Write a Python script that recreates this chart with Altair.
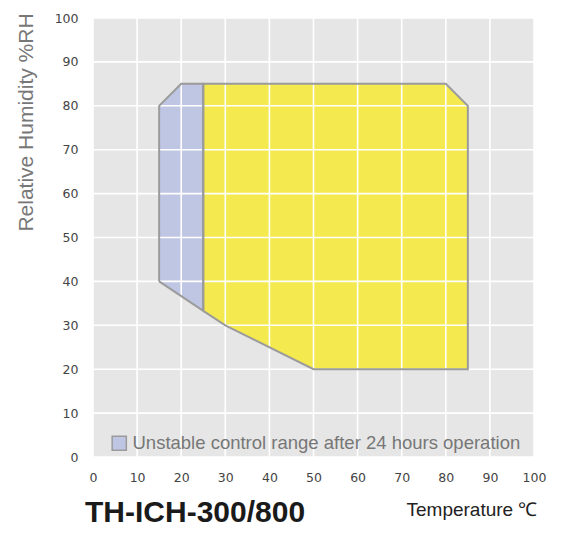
import altair as alt
import pandas as pd

# polygon vertices (temperature °C, relative humidity %RH)
blue_t = [15, 15, 20, 25, 25, 15]
blue_rh = [40, 80, 85, 85, 33.3, 40]
yellow_t = [25, 25, 80, 85, 85, 50, 30, 25]
yellow_rh = [33.3, 85, 85, 80, 20, 20, 30, 33.3]
ticks = [0, 10, 20, 30, 40, 50, 60, 70, 80, 90, 100]
legend_label = "Unstable control range after 24 hours operation"

blue_df = pd.DataFrame({"t": blue_t, "rh": blue_rh, "i": range(len(blue_t)),
                        "region": legend_label})
yellow_df = pd.DataFrame({"t": yellow_t, "rh": yellow_rh, "i": range(len(yellow_t))})
vgrid_df = pd.DataFrame({"t": ticks})
hgrid_df = pd.DataFrame({"rh": ticks})

xs = alt.Scale(domain=[0, 100], nice=False)
ys = alt.Scale(domain=[0, 100], nice=False)

xaxis = alt.Axis(values=ticks, grid=False,
                 domain=False, ticks=False, labelPadding=14, labelFont="DejaVu Sans",
                 labelFontSize=12.5, labelColor="#444444", labelFlush=False,
                 labelOverlap=False,
                 title="Temperature ℃", titleFont="Liberation Sans", titleFontSize=19,
                 titleFontWeight="normal", titleColor="#222222", titleAlign="left",
                 titleBaseline="alphabetic", titleX=313, titleY=58, titleAnchor="start")
yaxis = alt.Axis(values=ticks, grid=False,
                 domain=False, ticks=False, labelPadding=15, labelFont="DejaVu Sans",
                 labelFontSize=12.5, labelColor="#444444", labelFlush=False,
                 labelOverlap=False,
                 title="Relative Humidity %RH", titleFont="Liberation Sans", titleFontSize=21,
                 titleFontWeight="normal", titleColor="#777777", titleAngle=270,
                 titleAlign="center", titleBaseline="alphabetic", titleX=-61, titleY=104)

X = alt.X("t:Q", scale=xs, axis=xaxis)
Y = alt.Y("rh:Q", scale=ys, axis=yaxis)

yellow_fill = alt.Chart(yellow_df).mark_line(fill="#f4e94e", strokeOpacity=0).encode(
    x=X, y=Y, order="i:Q")

blue_fill = alt.Chart(blue_df).mark_line(strokeOpacity=0).encode(
    x=X, y=Y, order="i:Q",
    fill=alt.Fill("region:N", scale=alt.Scale(range=["#bfc6e4"]),
                  legend=alt.Legend(title=None, orient="none", legendX=17, legendY=416,
                                    symbolType="square", symbolSize=200,
                                    symbolStrokeColor="#9b9b9b", symbolStrokeWidth=1.5,
                                    symbolFillColor="#bfc6e4", symbolOpacity=1,
                                    labelFont="Liberation Sans", labelFontSize=18.5,
                                    labelColor="#777777", labelOffset=4, padding=0,
                                    labelLimit=600, zindex=2)),
)

vgrid = alt.Chart(vgrid_df).mark_rule(color="white", strokeWidth=1.6).encode(x=X)
hgrid = alt.Chart(hgrid_df).mark_rule(color="white", strokeWidth=1.6).encode(y=Y)

yellow_line = alt.Chart(yellow_df).mark_line(stroke="#9b9b9b", strokeWidth=2,
                                             strokeJoin="miter").encode(x=X, y=Y, order="i:Q")
blue_line = alt.Chart(blue_df).mark_line(stroke="#9b9b9b", strokeWidth=2,
                                         strokeJoin="miter").encode(x=X, y=Y, order="i:Q")

chart = alt.layer(yellow_fill, blue_fill, vgrid, hgrid, yellow_line, blue_line).properties(
    width=441, height=439,
    padding={"left": 85, "top": 10, "right": 43, "bottom": 78},
    autosize=alt.AutoSizeParams(type="none"),
    title=alt.TitleParams("TH-ICH-300/800", orient="bottom", anchor="start", frame="group",
                          font="Liberation Sans", fontSize=30, fontWeight="bold",
                          color="#1a1a1a", baseline="alphabetic", offset=0, dx=-8, dy=3),
).configure_view(fill="#e6e6e6", stroke=None)

chart.save("out.html", embed_options={"renderer": "svg", "actions": False})
